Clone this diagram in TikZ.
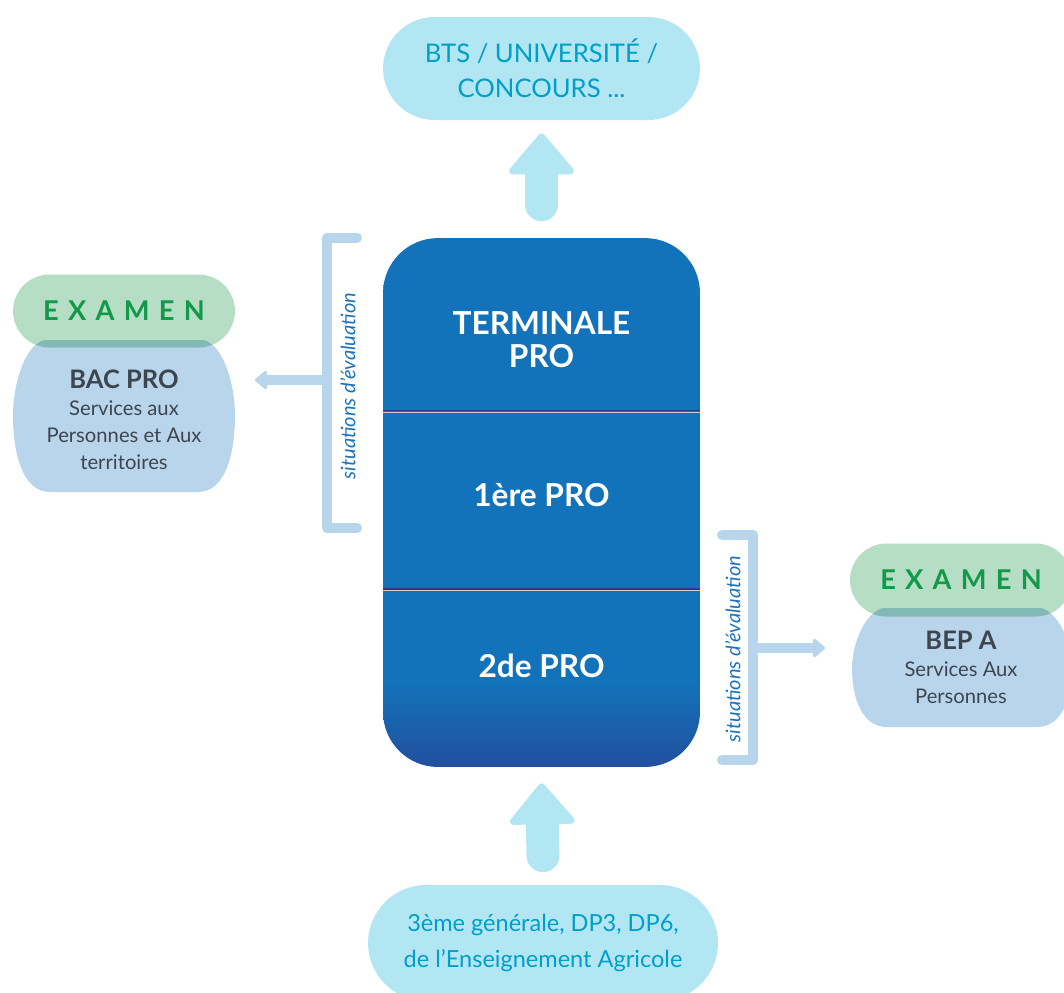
\documentclass[tikz,border=0pt]{standalone}
\usepackage{fontspec}
\setmainfont{Lato}
\usetikzlibrary{arrows.meta, positioning}

\definecolor{pillcyan}{HTML}{B3E6F3}
\definecolor{pilltext}{HTML}{009FC9}
\definecolor{boxtop}{HTML}{1272BA}
\definecolor{boxbot}{HTML}{22509E}
\definecolor{brk}{HTML}{B7D5EB}
\definecolor{blob}{HTML}{B8D5EB}
\definecolor{exampill}{HTML}{B5DEC5}
\definecolor{examtext}{HTML}{12994A}
\definecolor{darktext}{HTML}{3D4650}
\definecolor{evaltext}{HTML}{1D72BB}
\definecolor{divdark}{HTML}{2B3990}
\definecolor{divlight}{HTML}{C8CCD8}

\pgfdeclareverticalshading{boxshade}{100bp}{color(0bp)=(boxbot); color(25bp)=(boxbot); color(33bp)=(boxtop); color(100bp)=(boxtop)}

\begin{document}
\begin{tikzpicture}[x=0.02cm, y=-0.02cm,
  pill/.style={fill=pillcyan, inner sep=0pt, text=pilltext, align=center},
  level/.style={text=white, align=center, font=\bfseries\fontsize{18}{18.7}\selectfont},
  exam/.style={fill=exampill, inner sep=0pt, minimum width=4.44cm, minimum height=1.46cm, rounded corners=0.73cm, text=examtext, font=\bfseries\fontsize{15.5}{16}\selectfont\addfontfeature{LetterSpace=34}},
  diplome/.style={text=darktext, align=center, font=\fontsize{11.5}{15.3}\selectfont},
  evaltxt/.style={text=evaltext, rotate=90, font=\itshape\fontsize{11.4}{13}\selectfont},
  bracket/.style={draw=brk, line width=0.2cm, line cap=round, line join=round},
  bigarrow/.style={draw=pillcyan, line width=0.66cm, line cap=round, -{Triangle[length=0.86cm, width=1.42cm, line width=0.14cm, round]}},
  evalarrow/.style={draw=brk, line width=0.2cm, -{Triangle[length=0.26cm, width=0.42cm, line width=0.06cm, round]}}]
  \useasboundingbox (0,0) rectangle (1064,992);

  \node[pill, minimum width=6.34cm, minimum height=2.06cm, rounded corners=1.03cm, font=\fontsize{14.6}{20}\selectfont] (bts) at (541.5,68.5) {BTS / UNIVERSITÉ /\\CONCOURS ...};
  \node[pill, minimum width=7cm, minimum height=2.32cm, rounded corners=1.16cm, font=\fontsize{13.4}{21}\selectfont] (dp) at (543,943) {3ème générale, DP3, DP6,\\de l’Enseignement Agricole};

  \node[shading=boxshade, rounded corners=1.1cm, minimum width=6.34cm, minimum height=10.58cm, inner sep=0pt] (main) at (541.5,502.5) {};
  \draw[divdark, line width=0.85pt] (383,410.5) -- (700,410.5);
  \draw[divlight, line width=0.5pt] (383,412.3) -- (700,412.3);
  \draw[divdark, line width=0.85pt] (383,589) -- (700,589);
  \draw[divlight, line width=0.5pt] (383,590.8) -- (700,590.8);
  \node[level] (term) at (541.5,340) {TERMINALE\\PRO};
  \node[level] (prem) at (541.5,495) {1ère PRO};
  \node[level] (sec) at (541.5,666) {2de PRO};

  \draw[bigarrow] ([shift={(0,-33)}]main.north) -- ([shift={(0,13)}]bts.south);
  \draw[bigarrow] ([shift={(0,-29)}]dp.north) -- ([shift={(0,16)}]main.south);

  \draw[bracket] (357,238) -- (327,238) -- (327,528) -- (357,528);
  \draw[bracket] (722,535) -- (753,535) -- (753,760) -- (722,760);
  \coordinate (brL) at (327,380);
  \coordinate (brR) at (753,648);
  \node[evaltxt] (evL) at (348,386) {situations d’évaluation};
  \node[evaltxt] (evR) at (733,649) {situations d’évaluation};

  \node[exam] (examL) at (124,311) {EXAMEN};
  \node[exam] (examR) at (961,580) {EXAMEN};
  \fill[blob, blend mode=multiply] (44,340) -- (204,340) .. controls (224,346) and (235,385) .. (235,416) .. controls (235,452) and (226,492) .. (198,492) -- (50,492) .. controls (22,492) and (13,452) .. (13,416) .. controls (13,385) and (24,346) .. (44,340) -- cycle;
  \fill[blob, blend mode=multiply] (883,608) -- (1041,608) .. controls (1060,613) and (1072,645) .. (1072,668) .. controls (1072,698) and (1062,727) .. (1037,727) -- (887,727) .. controls (862,727) and (852,698) .. (852,668) .. controls (852,645) and (864,613) .. (883,608) -- cycle;
  \coordinate (bacE) at (235,380);
  \coordinate (bepW) at (852,648);
  \node[diplome] (bac) at (124,420) {{\bfseries\fontsize{14.5}{15.3}\selectfont BAC PRO}\\Services aux\\Personnes et Aux\\territoires};
  \node[diplome] (bep) at (961,667) {{\bfseries\fontsize{14.5}{15.3}\selectfont BEP A}\\Services Aux\\Personnes};

  \draw[evalarrow, shorten >=0.4cm] (brL) -- (bacE);
  \draw[evalarrow, shorten >=0.54cm] (brR) -- (bepW);
\end{tikzpicture}
\end{document}
